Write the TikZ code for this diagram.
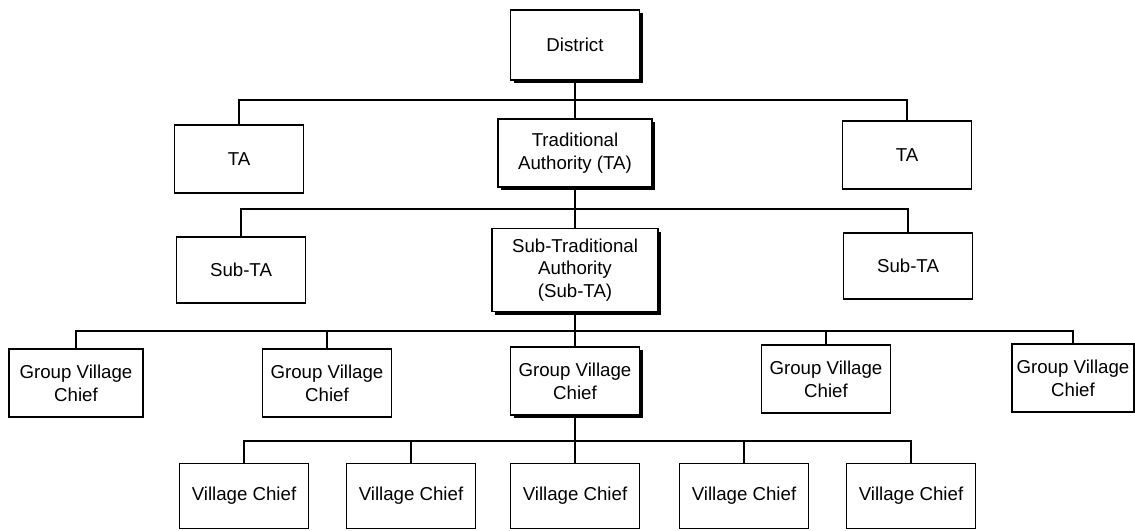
\documentclass[tikz,border=0pt]{standalone}
\usepackage{fontspec}
\setmainfont{Liberation Sans}
\usetikzlibrary{shadows}

\begin{document}
\begin{tikzpicture}[x=0.75pt,y=-0.75pt,
  box/.style={draw,line width=1pt,fill=white,align=center,inner sep=1pt,
    minimum width=97pt,minimum height=51pt,font=\fontsize{14}{17}\selectfont},
  mainbox/.style={box,drop shadow={fill=black,opacity=1,shadow xshift=2.5pt,shadow yshift=-2.5pt}},
  link/.style={line width=0.8pt}]
  \useasboundingbox (0,0) rectangle (1135,531);
  % levels
  \node[mainbox,minimum height=52.5pt] (dist) at (575,45) {District};
  \node[box] (ta1) at (239,159) {TA};
  \node[mainbox,minimum width=115.5pt] (ta2) at (575,153) {Traditional\\Authority (TA)};
  \node[box] (ta3) at (907,155) {TA};
  \node[box,minimum height=49.5pt] (sub1) at (241,270) {Sub-TA};
  \node[mainbox,minimum width=124.5pt,minimum height=62pt] (sub2) at (575,270) {Sub-Traditional\\Authority\\(Sub-TA)};
  \node[box,minimum height=49.5pt] (sub3) at (908,266) {Sub-TA};
  \node[box,minimum width=100.5pt] (gvc1) at (76,383) {Group Village\\Chief};
  \node[box] (gvc2) at (327,383) {Group Village\\Chief};
  \node[mainbox] (gvc3) at (575,381) {Group Village\\Chief};
  \node[box] (gvc4) at (826,379) {Group Village\\Chief};
  \node[box,minimum width=91.5pt] (gvc5) at (1073,378) {Group Village\\Chief};
  \node[box,minimum height=49pt] (vc1) at (244,496) {Village Chief};
  \node[box,minimum height=49pt] (vc2) at (411,496) {Village Chief};
  \node[box,minimum height=49pt] (vc3) at (575,496) {Village Chief};
  \node[box,minimum height=49pt] (vc4) at (744,496) {Village Chief};
  \node[box,minimum height=49pt] (vc5) at (911,496) {Village Chief};
  % connectors
  \coordinate (b1) at (575,100);
  \coordinate (b2) at (575,209);
  \coordinate (b3) at (575,331);
  \coordinate (b4) at (575,441);
  \draw[link] (dist) -- (b1) (b1) -- (ta2);
  \draw[link] (ta1.north) |- (b1) -| (ta3.north);
  \draw[link] (ta2) -- (b2) (b2) -- (sub2);
  \draw[link] (sub1.north) |- (b2) -| (sub3.north);
  \draw[link] (sub2) -- (b3) (b3) -- (gvc3);
  \draw[link] (gvc1.north) |- (b3) -| (gvc5.north);
  \draw[link] (gvc2.north) -- (gvc2.north |- b3);
  \draw[link] (gvc4.north) -- (gvc4.north |- b3);
  \draw[link] (gvc3) -- (b4) (b4) -- (vc3);
  \draw[link] (vc1.north) |- (b4) -| (vc5.north);
  \draw[link] (vc2.north) -- (vc2.north |- b4);
  \draw[link] (vc4.north) -- (vc4.north |- b4);
\end{tikzpicture}
\end{document}
